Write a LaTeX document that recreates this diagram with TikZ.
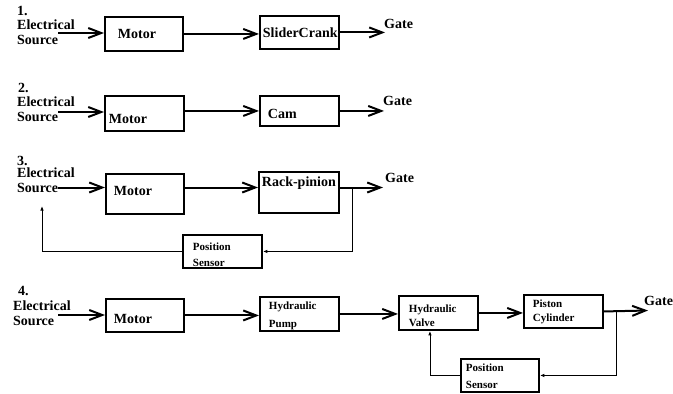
\documentclass[tikz,border=0pt]{standalone}
\usepackage{fontspec}
\setmainfont{Liberation Serif}
\usetikzlibrary{arrows.meta}
\begin{document}
\begin{tikzpicture}[x=1pt,y=-1pt,
  big/.style={font=\fontsize{14}{15}\selectfont\bfseries},
  small/.style={font=\fontsize{11}{13.5}\selectfont\bfseries},
  lbl/.style={big,inner sep=0pt,align=left},
  box/.style={draw,line width=1.9pt,anchor=north west,inner ysep=0pt,align=left},
  flow/.style={line width=2pt,-{Straight Barb[length=13pt,width=10pt]}},
  fb/.style={line width=0.9pt,-{Latex[length=4.5pt,width=3.5pt]}},
]
\useasboundingbox (0,0) rectangle (673,394);

% ---------- 1 ----------
\node[lbl,anchor=base west] (n1) at (17,15) {1.};
\node[lbl,anchor=north west] (e1) at (17,20) {Electrical\\Source};
\coordinate (s1) at (58,33);
\node[box,big,minimum width=78pt,minimum height=34pt,inner xsep=13pt,text width=52pt,text height=15pt,text depth=5pt] (m1) at (104,16) {Motor};
\node[box,big,minimum width=79pt,minimum height=33pt,inner xsep=3pt,text width=73pt,text height=15.5pt,text depth=4.5pt] (c1) at (259,15) {SliderCrank};
\node[lbl,anchor=base west] (g1) at (384,28) {Gate};
\coordinate (o1) at (385,32);
\draw[flow] (s1) -- (s1 -| m1.west);
\draw[flow] (m1.east) -- (m1.east -| c1.west);
\draw[flow] (c1.east) -- (c1.east -| o1);

% ---------- 2 ----------
\node[lbl,anchor=base west] (n2) at (18,92) {2.};
\node[lbl,anchor=north west] (e2) at (17,97) {Electrical\\Source};
\coordinate (s2) at (58,112);
\node[box,big,minimum width=79pt,minimum height=35pt,inner xsep=4pt,text width=71pt,text height=21pt,text depth=0pt] (m2) at (104,95) {Motor};
\node[box,big,minimum width=79pt,minimum height=30pt,inner xsep=8pt,text width=63pt,text height=18pt,text depth=2pt] (cam) at (259,95) {Cam};
\node[lbl,anchor=base west] (g2) at (383,105) {Gate};
\coordinate (o2) at (384,110);
\draw[flow] (s2) -- (s2 -| m2.west);
\draw[flow] (cam.west -| m2.east) -- (cam.west);
\draw[flow] (cam.east) -- (cam.east -| o2);

% ---------- 3 ----------
\node[lbl,anchor=base west] (n3) at (17,165) {3.};
\node[lbl,anchor=north west] (e3) at (17,168) {Electrical\\Source};
\coordinate (s3) at (58,187.5);
\node[box,big,minimum width=78pt,minimum height=40pt,inner xsep=8pt,text width=62pt,text height=12pt,text depth=8pt] (m3) at (105,173) {Motor};
\node[box,big,minimum width=80pt,minimum height=41pt,inner xsep=3pt,text width=74pt,text height=4.5pt,text depth=15.5pt] (rp3) at (258,171) {\mbox{Rack-pinion}};
\node[lbl,anchor=base west] (g3) at (385,182) {Gate};
\coordinate (o3) at (383,187.5);
\coordinate (t3) at (352,187.5);
\coordinate (r3) at (42,206);
\node[box,small,minimum width=79pt,minimum height=33pt,inner xsep=10pt,text width=59pt,text height=9.5pt,text depth=10.5pt] (ps3) at (182,234) {Position\\[2.5pt]Sensor};
\draw[flow] (s3) -- (s3 -| m3.west);
\draw[flow] (s3 -| m3.east) -- (s3 -| rp3.west);
\draw[flow] (s3 -| rp3.east) -- (o3);
\draw[fb] (t3) |- (ps3.east);
\draw[fb] (ps3.west) -| (r3);

% ---------- 4 ----------
\node[lbl,anchor=base west] (n4) at (18,295) {4.};
\node[lbl,anchor=north west] (e4) at (13,301) {Electrical\\Source};
\coordinate (s4) at (58,315);
\node[box,big,minimum width=78pt,minimum height=33pt,inner xsep=8pt,text width=62pt,text height=18.5pt,text depth=1.5pt] (m4) at (105,298) {Motor};
\node[box,small,minimum width=79pt,minimum height=34pt,inner xsep=9pt,text width=61pt,text height=6pt,text depth=14pt] (hp4) at (259,296) {Hydraulic\\[4.5pt]Pump};
\node[box,small,minimum width=79pt,minimum height=34pt,inner xsep=10pt,text width=59pt,text height=10pt,text depth=10pt] (hv4) at (398,295) {Hydraulic\\Valve};
\node[box,small,minimum width=79pt,minimum height=33pt,inner xsep=9pt,text width=61pt,text height=6.5pt,text depth=13.5pt] (pc4) at (523,294) {Piston\\[0.5pt]Cylinder};
\node[lbl,anchor=base west] (g4) at (644,305) {Gate};
\coordinate (o4) at (648,310.5);
\coordinate (t4) at (616,310.5);
\node[box,small,minimum width=78pt,minimum height=33pt,inner xsep=5pt,text width=68pt,text height=6.5pt,text depth=13.5pt] (ps4) at (460,358) {Position\\[3.5pt]Sensor};
\draw[flow] (s4) -- (s4 -| m4.west);
\draw[flow] (m4.east) -- (m4.east -| hp4.west);
\draw[flow] (hp4.east) -- (hp4.east -| hv4.west);
\draw[flow] (hv4.east) -- (hv4.east -| pc4.west);
\draw[flow] (pc4.east) -- (o4);
\draw[fb] (t4) |- (ps4.east);
\draw[fb] (ps4.west) -| ([xshift=-8.5pt]hv4.south);
\end{tikzpicture}
\end{document}
